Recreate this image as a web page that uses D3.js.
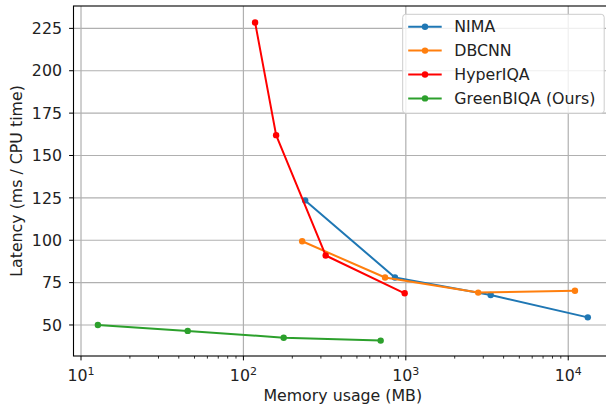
<!DOCTYPE html>
<meta charset="utf-8">
<script src="https://d3js.org/d3.v7.min.js"></script>
<style>
  body { margin: 0; background: #fff; }
  text { font-family: "DejaVu Sans", sans-serif; fill: #222; }
</style>
<div id="chart"></div>
<script>
// Values
var seriesNames = ["NIMA", "DBCNN", "HyperIQA", "GreenBIQA (Ours)"];
var seriesColors = ["#1f77b4", "#ff7f0e", "#ff0000", "#2ca02c"];

var nimaMemory = [240, 857, 3330, 13200];
var nimaLatency = [123.5, 78, 67.7, 54.5];

var dbcnnMemory = [230, 745, 2790, 11000];
var dbcnnLatency = [99.4, 78, 69.1, 70.2];

var hyperMemory = [118, 159, 321, 984];
var hyperLatency = [228.5, 162, 91, 68.7];

var greenMemory = [12.7, 45.4, 177, 700];
var greenLatency = [50, 46.5, 42.5, 40.8];

var yTicks = [50, 75, 100, 125, 150, 175, 200, 225];
var xTicks = [10, 100, 1000, 10000];

var series = [
  { name: seriesNames[0], color: seriesColors[0], x: nimaMemory, y: nimaLatency },
  { name: seriesNames[1], color: seriesColors[1], x: dbcnnMemory, y: dbcnnLatency },
  { name: seriesNames[2], color: seriesColors[2], x: hyperMemory, y: hyperLatency },
  { name: seriesNames[3], color: seriesColors[3], x: greenMemory, y: greenLatency }
];

var W = 606, H = 405;
var fs = "15.8px";
var margin = { top: 6, left: 73.5, bottom: 49, right: -6 };
var width = W - margin.left - margin.right;
var height = H - margin.top - margin.bottom;

var x = d3.scaleLog().domain([8.99, 18600]).range([0, width]);
var y = d3.scaleLinear().domain([31.7, 238.2]).range([height, 0]);

var svg = d3.select("#chart").append("svg")
  .attr("width", W)
  .attr("height", H);

var g = svg.append("g")
  .attr("transform", "translate(" + margin.left + "," + margin.top + ")");

// grid
g.append("g").selectAll("line").data(xTicks).enter().append("line")
  .attr("x1", function(d) { return x(d); })
  .attr("x2", function(d) { return x(d); })
  .attr("y1", 0).attr("y2", height)
  .attr("stroke", "#b0b0b0").attr("stroke-width", 1.2);

g.append("g").selectAll("line").data(yTicks).enter().append("line")
  .attr("x1", 0).attr("x2", width)
  .attr("y1", function(d) { return y(d); })
  .attr("y2", function(d) { return y(d); })
  .attr("stroke", "#b0b0b0").attr("stroke-width", 1.2);

// series
var line = d3.line()
  .x(function(d) { return x(d[0]); })
  .y(function(d) { return y(d[1]); });

series.forEach(function(s) {
  var pts = d3.zip(s.x, s.y);
  g.append("path")
    .attr("d", line(pts))
    .attr("fill", "none")
    .attr("stroke", s.color)
    .attr("stroke-width", 2)
    .attr("stroke-linejoin", "round");
  g.selectAll(null).data(pts).enter().append("circle")
    .attr("cx", function(d) { return x(d[0]); })
    .attr("cy", function(d) { return y(d[1]); })
    .attr("r", 3.2)
    .attr("fill", s.color);
});

// spines
g.append("rect")
  .attr("width", width).attr("height", height)
  .attr("fill", "none").attr("stroke", "#000").attr("stroke-width", 1.1);

// x axis
var minorTicks = [];
[10, 100, 1000, 10000].forEach(function(dec) {
  for (var k = 2; k <= 9; k++) {
    var v = dec * k;
    if (v < x.domain()[1]) minorTicks.push(v);
  }
});
g.append("g").selectAll("line").data(minorTicks).enter().append("line")
  .attr("x1", function(d) { return x(d); })
  .attr("x2", function(d) { return x(d); })
  .attr("y1", height).attr("y2", height + 2.6)
  .attr("stroke", "#000").attr("stroke-width", 0.8);

var xt = g.append("g").selectAll("g").data(xTicks).enter().append("g")
  .attr("transform", function(d) { return "translate(" + x(d) + "," + height + ")"; });
xt.append("line").attr("y2", 4.4).attr("stroke", "#000").attr("stroke-width", 1);
var xl = xt.append("text")
  .attr("y", 24.5)
  .attr("text-anchor", "middle")
  .style("font-size", fs);
xl.append("tspan").text("10");
xl.append("tspan")
  .attr("dy", -6)
  .style("font-size", "11px")
  .text(function(d) { return Math.round(Math.log10(d)); });

// y axis
var yt = g.append("g").selectAll("g").data(yTicks).enter().append("g")
  .attr("transform", function(d) { return "translate(0," + y(d) + ")"; });
yt.append("line").attr("x2", -4.4).attr("stroke", "#000").attr("stroke-width", 1);
yt.append("text")
  .attr("x", -11.5)
  .attr("dy", "0.36em")
  .attr("text-anchor", "end")
  .style("font-size", fs)
  .text(function(d) { return d; });

// axis labels
svg.append("text")
  .attr("x", margin.left + width / 2)
  .attr("y", 401)
  .attr("text-anchor", "middle")
  .style("font-size", fs)
  .text("Memory usage (MB)");

svg.append("text")
  .attr("transform", "translate(22," + (margin.top + height / 2) + ") rotate(-90)")
  .attr("text-anchor", "middle")
  .style("font-size", fs)
  .text("Latency (ms / CPU time)");

// legend
var legend = svg.append("g").attr("transform", "translate(402.7,14.3)");
legend.append("rect")
  .attr("width", 201.5).attr("height", 99)
  .attr("rx", 3).attr("ry", 3)
  .attr("fill", "#fff").attr("fill-opacity", 0.8)
  .attr("stroke", "#cccccc").attr("stroke-width", 1);

var item = legend.selectAll("g.item").data(series).enter().append("g")
  .attr("class", "item")
  .attr("transform", function(d, i) { return "translate(0," + (12.4 + i * 23.9) + ")"; });
item.append("line")
  .attr("x1", 5.5).attr("x2", 39)
  .attr("stroke", function(d) { return d.color; })
  .attr("stroke-width", 2);
item.append("circle")
  .attr("cx", 22.3).attr("r", 3.2)
  .attr("fill", function(d) { return d.color; });
item.append("text")
  .attr("x", 51.6)
  .attr("dy", "0.36em")
  .style("font-size", fs)
  .text(function(d) { return d.name; });
</script>
